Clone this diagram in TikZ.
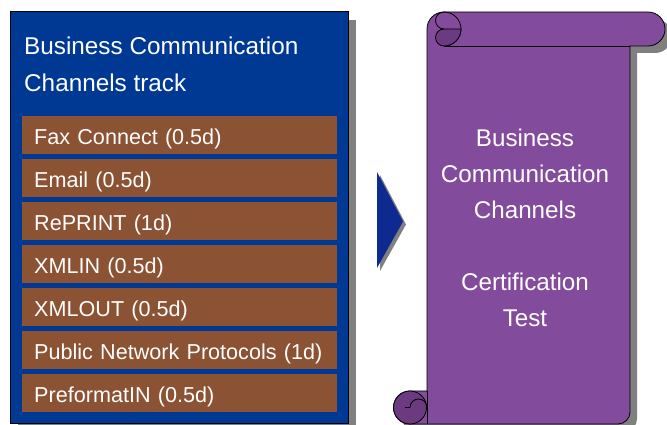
\documentclass[tikz,border=0pt]{standalone}
\usepackage{fontspec}
\setmainfont{Liberation Sans}
\definecolor{boxblue}{RGB}{0,57,148}
\definecolor{arrowblue}{RGB}{14,42,145}
\definecolor{barbrown}{RGB}{139,82,51}
\definecolor{scrollpurple}{RGB}{131,75,155}
\definecolor{curlpurple}{RGB}{108,58,128}
\definecolor{shadowgray}{RGB}{128,128,128}
\begin{document}
\begin{tikzpicture}[x=1pt,y=1pt,
  bar/.style={fill=barbrown, anchor=north west, minimum width=315pt, minimum height=38pt,
    text height=28pt, text depth=10pt, inner ysep=0pt, inner xsep=12pt, text width=291pt,
    align=left, text=white, font=\fontsize{21.6}{26}\selectfont},
  title/.style={anchor=base west, inner sep=0pt, text=white, font=\fontsize{24.3}{29}\selectfont},
  scrolltext/.style={anchor=base, inner sep=0pt, text=white, font=\fontsize{24.2}{29}\selectfont},
  outline/.style={draw=black, line width=0.8pt, line join=round}]
\useasboundingbox (0,0) rectangle (667,425);
% left box
\fill[shadowgray] (18,-8) rectangle (356,405);
\node[fill=boxblue, draw=black, line width=0.8pt, anchor=south west, minimum width=338pt, minimum height=412pt, inner sep=0pt] (trackbox) at (10,1) {};
\node[title] (t1) at (24,370) {Business Communication};
\node[title] (t2) at (24,333) {Channels track};
\node[bar] (b1) at (22,309) {Fax Connect (0.5d)};
\node[bar] (b2) at (22,266) {Email (0.5d)};
\node[bar] (b3) at (22,223) {RePRINT (1d)};
\node[bar] (b4) at (22,180) {XMLIN (0.5d)};
\node[bar] (b5) at (22,137) {XMLOUT (0.5d)};
\node[bar] (b6) at (22,94) {Public Network Protocols (1d)};
\node[bar] (b7) at (22,51) {PreformatIN (0.5d)};
% arrow
\fill[shadowgray] (380,250) -- (406,200.5) -- (380,154) -- cycle;
\fill[arrowblue] (377,253) -- (403,203.5) -- (377,157) -- cycle;
% scroll shadow
\fill[shadowgray, shift={(7,-7)}] (427,34) -- (427,396) arc[start angle=180,end angle=90,radius=17]
  -- (648,413) arc[start angle=90,end angle=-90,radius=17] -- (630,379) -- (630,13)
  arc[start angle=0,end angle=-90,radius=12] -- (410,1) arc[start angle=270,end angle=90,radius=16.5] -- cycle;
% scroll body
\filldraw[fill=scrollpurple, outline] (427,34) -- (427,396) arc[start angle=180,end angle=90,radius=17]
  -- (648,413) arc[start angle=90,end angle=-90,radius=17] -- (630,379) -- (630,13)
  arc[start angle=0,end angle=-90,radius=12] -- (410,1) arc[start angle=270,end angle=90,radius=16.5] -- cycle;
% bottom curl
\filldraw[fill=curlpurple, outline] (410,17.5) circle[radius=16.5];
\draw[outline] (405,17.5) -- (410,17.5) arc[start angle=180,end angle=0,radius=8.5];
\draw[outline] (427,1) -- (427,34);
% top curl
\draw[outline] (444,379) -- (630,379);
\draw[outline] (444,413) arc[start angle=90,end angle=-90,radius=17];
\draw[outline] (444,413) arc[start angle=90,end angle=270,radius=8.5];
\filldraw[fill=curlpurple, outline] (461,396) -- (444,396) arc[start angle=90,end angle=270,radius=8.5]
  arc[start angle=270,end angle=360,radius=17] -- cycle;
% scroll text
\node[scrolltext] (s1) at (525,278) {Business};
\node[scrolltext] (s2) at (525,242) {Communication};
\node[scrolltext] (s3) at (525,206) {Channels};
\node[scrolltext] (s4) at (525,134) {Certification};
\node[scrolltext] (s5) at (525,98) {Test};
\end{tikzpicture}
\end{document}
